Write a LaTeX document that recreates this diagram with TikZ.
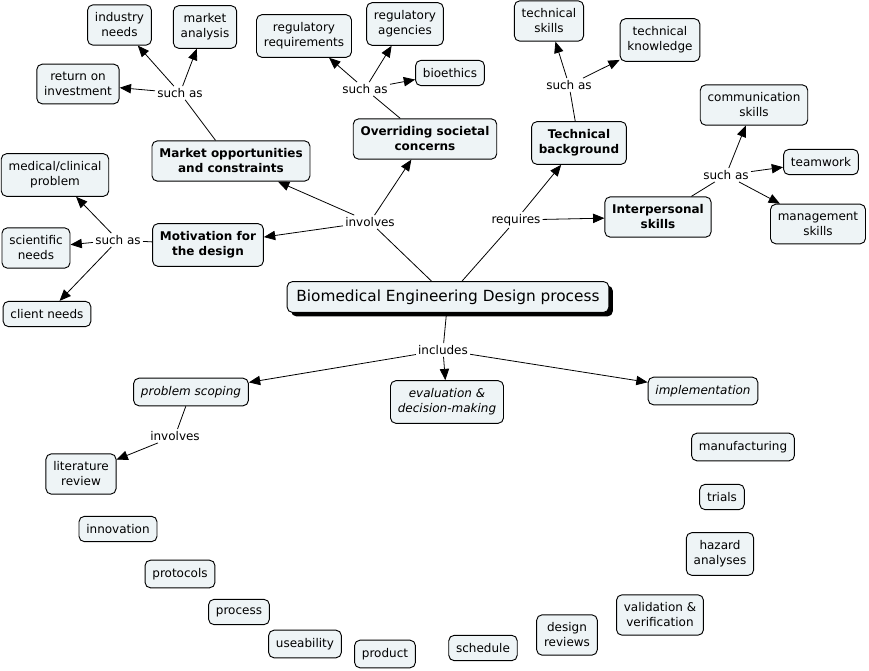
\documentclass[tikz,border=0pt]{standalone}
\usepackage{fontspec}
\setmainfont{DejaVu Sans}[BoldFont={DejaVu Sans Bold},ItalicFont={DejaVu Sans Oblique}]
\usetikzlibrary{arrows.meta,shadows}
\definecolor{boxfill}{RGB}{238,244,246}
\begin{document}
\begin{tikzpicture}[x=0.75pt,y=-0.75pt,
  concept/.style={draw=black, fill=boxfill, rounded corners=4pt, align=center,
    inner xsep=5.5pt, inner ysep=6pt, font=\fontsize{9}{11.25}\selectfont, line width=0.7pt},
  bconcept/.style={concept, font=\fontsize{9}{11.25}\selectfont\bfseries},
  iconcept/.style={concept, font=\fontsize{9}{11.25}\selectfont\itshape},
  phrase/.style={inner sep=1.5pt, font=\fontsize{9}{11.25}\selectfont},
  link/.style={line width=0.6pt},
  arr/.style={link, -{Triangle[length=8.5pt,width=7pt]}},
]
\fill[white] (0,0) rectangle (869,671);
\useasboundingbox (0,0) rectangle (869,671);

% central
\node[concept, font=\fontsize{11.5}{14}\selectfont, inner xsep=7pt, inner ysep=6pt,
  drop shadow={shadow xshift=3pt, shadow yshift=-3pt, fill=black, opacity=1}]
  (central) at (448,297) {Biomedical Engineering Design process};

% main branches
\node[bconcept] (market) at (231,161) {Market opportunities\\and constraints};
\node[bconcept] (societal) at (425,139) {Overriding societal\\concerns};
\node[bconcept] (techbg) at (579,143) {Technical\\background};
\node[bconcept] (interp) at (658,217) {Interpersonal\\skills};
\node[bconcept] (motiv) at (208,245) {Motivation for\\the design};

% phrases
\node[phrase] (involves) at (370,222) {involves};
\node[phrase] (requires) at (516,220) {requires};
\node[phrase] (includes) at (443,350) {includes};
\node[phrase] (sa1) at (180,93) {such as};
\node[phrase] (sa2) at (365,89) {such as};
\node[phrase] (sa3) at (569,85) {such as};
\node[phrase] (sa4) at (726,175) {such as};
\node[phrase] (sa5) at (118,240) {such as};
\node[phrase] (involves2) at (175,436) {involves};

% leaves
\node[concept] (industry) at (119.5,25) {industry\\needs};
\node[concept] (manalysis) at (205,27) {market\\analysis};
\node[concept] (roi) at (78,84) {return on\\investment};
\node[concept] (regreq) at (304,36) {regulatory\\requirements};
\node[concept] (regag) at (405,24) {regulatory\\agencies};
\node[concept] (bioeth) at (450,73) {bioethics};
\node[concept] (techsk) at (549,21) {technical\\skills};
\node[concept] (techkn) at (660,40) {technical\\knowledge};
\node[concept] (comm) at (754,105) {communication\\skills};
\node[concept] (team) at (821,162) {teamwork};
\node[concept] (manage) at (818,224) {management\\skills};
\node[concept] (medical) at (55,175) {medical/clinical\\problem};
\node[concept] (scient) at (36,248) {scientific\\needs};
\node[concept] (client) at (47,314) {client needs};

\node[iconcept] (scoping) at (191,392) {problem scoping};
\node[iconcept] (evaluation) at (447,402) {evaluation \&\\decision-making};
\node[iconcept] (implement) at (703,391) {implementation};
\node[concept] (litrev) at (81,474) {literature\\review};

% unconnected
\node[concept] (innov) at (118,529) {innovation};
\node[concept] (protocols) at (180,574) {protocols};
\node[concept] (process) at (239,612) {process};
\node[concept] (useab) at (305,644) {useability};
\node[concept] (product) at (385,654) {product};
\node[concept] (schedule) at (483,648) {schedule};
\node[concept] (dreviews) at (567,635) {design\\reviews};
\node[concept] (valid) at (660,615) {validation \&\\verification};
\node[concept] (hazard) at (720,554) {hazard\\analyses};
\node[concept] (trials) at (722,497) {trials};
\node[concept] (manuf) at (743,447) {manufacturing};

% connectors
\draw[link] (central) -- (involves);
\draw[arr] (involves) -- (market);
\draw[arr] (involves) -- (societal);
\draw[arr] (involves) -- (motiv);
\draw[link] (central) -- (requires);
\draw[arr] (requires) -- (techbg);
\draw[arr] (requires) -- (interp);
\draw[link] (central) -- (includes);
\draw[arr] (includes) -- (scoping);
\draw[arr] (includes) -- (evaluation);
\draw[arr] (includes) -- (implement);

\draw[link] (market) -- (sa1);
\draw[arr] (sa1) -- (industry);
\draw[arr] (sa1) -- (manalysis);
\draw[arr] (sa1) -- (roi);

\draw[link] (societal) -- (sa2);
\draw[arr] (sa2) -- (regreq);
\draw[arr] (sa2) -- (regag);
\draw[arr] (sa2) -- (bioeth);

\draw[link] (techbg) -- (sa3);
\draw[arr] (sa3) -- (techsk);
\draw[arr] (sa3) -- (techkn);

\draw[link] (interp) -- (sa4);
\draw[arr] (sa4) -- (comm);
\draw[arr] (sa4) -- (team);
\draw[arr] (sa4) -- (manage);

\draw[link] (motiv) -- (sa5);
\draw[arr] (sa5) -- (medical);
\draw[arr] (sa5) -- (scient);
\draw[arr] (sa5) -- (client);

\draw[link] (scoping) -- (involves2);
\draw[arr] (involves2) -- (litrev);
\end{tikzpicture}
\end{document}
